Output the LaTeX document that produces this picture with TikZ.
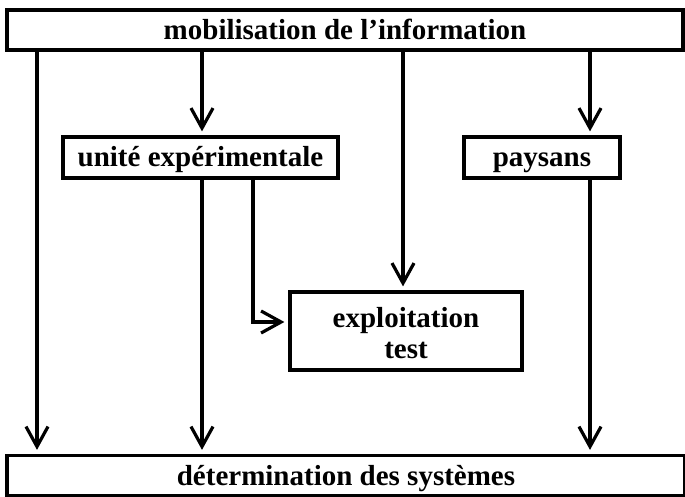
\documentclass[tikz,border=0pt]{standalone}
\usepackage{fontspec}
\setmainfont{Liberation Serif}
\usetikzlibrary{arrows.meta}
\begin{document}
\begin{tikzpicture}[x=1pt,y=-1pt,
  box/.style={draw,line width=3.2pt,inner sep=0pt,align=center,
    font=\fontsize{29}{31}\selectfont\bfseries},
  onerow/.style={box,text height=22pt,text depth=3pt},
  tworow/.style={box,text height=57pt,text depth=3pt},
  arr/.style={line width=3.2pt,
    -{Straight Barb[length=20pt,width=22pt,line width=3.2pt]},shorten >=4pt}
]
\useasboundingbox (0,0) rectangle (685,497);
% boxes
\node[onerow,minimum width=676pt,minimum height=40pt] (info) at (345,30) {mobilisation de l'information};
\node[onerow,minimum width=275pt,minimum height=41pt] (ue) at (200.5,157.5) {unité expérimentale};
\node[onerow,minimum width=156pt,minimum height=41pt] (pay) at (542,157.5) {paysans};
\node[tworow,minimum width=232pt,minimum height=78pt] (expl) at (406,331) {exploitation\\test};
\node[onerow,minimum width=678pt,minimum height=40pt] (sys) at (346,475.5) {détermination des systèmes};
% column positions of the connectors
\coordinate (cA) at (37,0);
\coordinate (cB) at (202,0);
\coordinate (cC) at (253,0);
\coordinate (cD) at (403,0);
\coordinate (cE) at (590,0);
\coordinate (turn) at (253,322);
% connectors
\draw[arr] (info.south -| cA) -- (sys.north -| cA);
\draw[arr] (info.south -| cB) -- (ue.north -| cB);
\draw[arr] (info.south -| cD) -- (expl.north -| cD);
\draw[arr] (info.south -| cE) -- (pay.north -| cE);
\draw[arr] (ue.south -| cB) -- (sys.north -| cB);
\draw[arr] (ue.south -| cC) -- (turn) -- (expl.west |- turn);
\draw[arr] (pay.south -| cE) -- (sys.north -| cE);
\end{tikzpicture}
\end{document}
